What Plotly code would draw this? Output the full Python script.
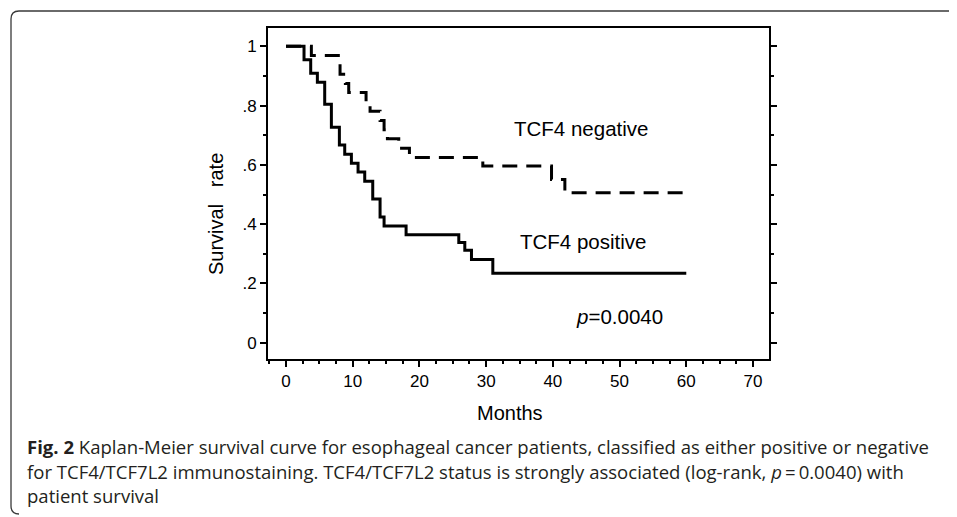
import plotly.graph_objects as go

# ---- data ----
months_pos = [0, 2.7, 3.7, 4.7, 5.8, 6.8, 8.0, 8.8, 9.8, 10.8, 11.8, 13.0, 14.1, 14.7, 18.0, 25.9, 26.8, 27.8, 31.0, 60]
surv_pos = [1.0, 0.955, 0.909, 0.879, 0.805, 0.727, 0.667, 0.636, 0.606, 0.576, 0.545, 0.485, 0.424, 0.394, 0.364, 0.338, 0.312, 0.281, 0.234, 0.234]

months_neg = [0, 3.8, 8.1, 8.9, 9.4, 12.0, 12.6, 14.1, 14.7, 15.2, 16.9, 18.5, 29.5, 39.8, 41.8, 60]
surv_neg = [1.0, 0.969, 0.906, 0.875, 0.844, 0.812, 0.781, 0.750, 0.719, 0.688, 0.656, 0.625, 0.596, 0.551, 0.506, 0.506]

x_ticks = [0, 10, 20, 30, 40, 50, 60, 70]
y_ticks = [0, 0.2, 0.4, 0.6, 0.8, 1.0]
y_ticktext = ["0", ".2", ".4", ".6", ".8", "1"]

label_neg = "TCF4 negative"
label_pos = "TCF4 positive"
p_text = "<i>p</i>=0.0040"
caption_lines = [
    "<b>Fig. 2</b> Kaplan-Meier survival curve for esophageal cancer patients, classified as either positive or negative",
    "for TCF4/TCF7L2 immunostaining. TCF4/TCF7L2 status is strongly associated (log-rank, <i>p</i>\u2009=\u20090.0040) with",
    "patient survival",
]

# ---- layout geometry (page pixels; page body has an 8px margin) ----
OFF = 8
W, H = 957 - OFF, 517 - OFF
L, R, T, B = 268, 769, 28, 359


def fx(px):
    return (px - L) / (R - L)


def fy(py):
    return (B - py) / (B - T)


ARIAL = "Liberation Sans, Arial, sans-serif"
CAP = "Open Sans, sans-serif"

fig = go.Figure()
fig.add_trace(go.Scatter(x=months_neg, y=surv_neg, mode="lines", line_shape="hv",
                         line=dict(color="black", width=3, dash="15px,9px"), showlegend=False))
fig.add_trace(go.Scatter(x=months_pos, y=surv_pos, mode="lines", line_shape="hv",
                         line=dict(color="black", width=3), showlegend=False))

fig.update_layout(
    width=W, height=H,
    margin=dict(l=L - OFF, r=957 - R, t=T - OFF, b=517 - B),
    paper_bgcolor="white", plot_bgcolor="white",
    font=dict(family=ARIAL, color="black"),
    xaxis=dict(range=[-2.7, 72.4], tickvals=x_ticks, ticks="outside", ticklen=6, tickwidth=2,
               tickcolor="black", showline=True, linewidth=2, linecolor="black", mirror=True,
               showgrid=False, zeroline=False, tickfont=dict(size=17, family=ARIAL),
               minor=dict(dtick=2.5, tick0=0, ticks="outside", ticklen=3, tickwidth=2, tickcolor="black",
                          showgrid=False)),
    yaxis=dict(range=[-0.055, 1.062], tickvals=y_ticks, ticktext=y_ticktext, ticks="outside",
               ticklen=6, tickwidth=2, tickcolor="black", showline=True, linewidth=2,
               linecolor="black", mirror="ticks", showgrid=False, zeroline=False,
               tickfont=dict(size=17, family=ARIAL),
               minor=dict(dtick=0.1, tick0=0, ticks="outside", ticklen=3, tickwidth=2, tickcolor="black",
                          showgrid=False)),
)

ann = []
ann.append(dict(x=44.2, y=0.722, xref="x", yref="y", text=label_neg, showarrow=False,
                xanchor="center", yanchor="middle", font=dict(size=20.5, family=ARIAL)))
ann.append(dict(x=44.5, y=0.341, xref="x", yref="y", text=label_pos, showarrow=False,
                xanchor="center", yanchor="middle", font=dict(size=20.5, family=ARIAL)))
ann.append(dict(x=50.0, y=0.089, xref="x", yref="y", text=p_text, showarrow=False,
                xanchor="center", yanchor="middle", font=dict(size=20.5, family=ARIAL)))
ann.append(dict(x=fx(510), y=fy(413), xref="paper", yref="paper", text="Months", showarrow=False,
                xanchor="center", yanchor="middle", font=dict(size=20, family=ARIAL)))
ann.append(dict(x=fx(216), y=fy(214), xref="paper", yref="paper", text="Survival   rate",
                textangle=-90, xanchor="center", yanchor="middle", showarrow=False,
                font=dict(size=20, family=ARIAL)))
baselines = [452, 477, 501]
for line, bl in zip(caption_lines, baselines):
    ann.append(dict(x=fx(25), y=fy(bl - 6), xref="paper", yref="paper", text=line, showarrow=False,
                    xanchor="left", yanchor="middle", font=dict(size=18.55, family=CAP, color="#231f20")))
fig.update_layout(annotations=ann)

# outer frame (top line + rounded left side)
path = (f"M {fx(970)},{fy(11)} L {fx(19)},{fy(11)} Q {fx(11)},{fy(11)} {fx(11)},{fy(19)} "
        f"L {fx(11)},{fy(506)} Q {fx(11)},{fy(514)} {fx(19)},{fy(514)}")
fig.add_shape(type="path", path=path, xref="paper", yref="paper",
              line=dict(color="#3a3a3a", width=1.3))

fig.write_html("out.html")
